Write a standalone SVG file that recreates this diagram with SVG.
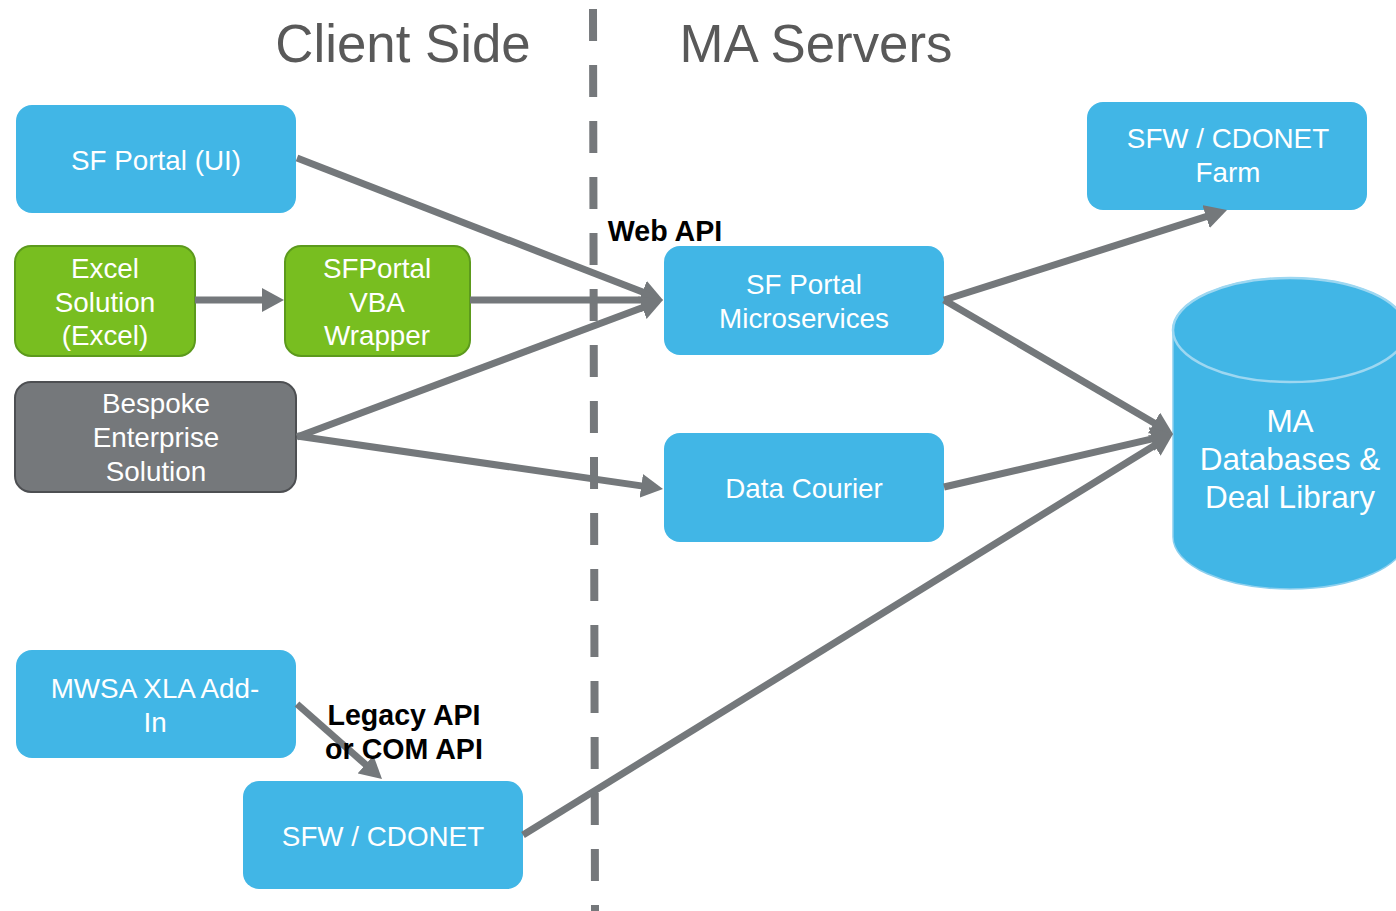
<svg xmlns="http://www.w3.org/2000/svg" width="1396" height="911" viewBox="0 0 1396 911">
<style>
.blue{fill:#41B6E6;}
.green{fill:#78BE20;stroke:#5C9A1C;stroke-width:2;}
.grey{fill:#75787B;stroke:#4D4F52;stroke-width:2;}
.nt{font-family:"Liberation Sans",Arial,sans-serif;font-size:27.8px;fill:#FFFFFF;text-anchor:middle;}
.dbt{font-family:"Liberation Sans",Arial,sans-serif;font-size:31.5px;fill:#FFFFFF;text-anchor:middle;}
.title{font-family:"Liberation Sans",Arial,sans-serif;font-size:52.8px;fill:#595959;text-anchor:middle;}
.lbl{font-family:"Liberation Sans",Arial,sans-serif;font-size:28.6px;font-weight:bold;fill:#000000;text-anchor:middle;}
.conn{stroke:#74787B;stroke-width:7;fill:none;marker-end:url(#ah);}
</style>
<defs>
<marker id="ah" markerUnits="userSpaceOnUse" markerWidth="24" markerHeight="24" refX="14" refY="12" orient="auto">
<path d="M0,0 L22,12 L0,24 Z" fill="#74787B"/>
</marker>
</defs>
<rect width="1396" height="911" fill="#FFFFFF"/>

<g id="titles">
<text class="title" x="403" y="62">Client Side</text>
<text class="title" x="816" y="62">MA Servers</text>
</g>

<g id="divider">
<line x1="593" y1="9" x2="595" y2="911" stroke="#75787B" stroke-width="8" stroke-dasharray="32 24"/>
</g>

<g id="sf-portal-ui">
<rect class="blue" x="16" y="105" width="280" height="108" rx="16"/>
<text class="nt" x="156" y="170">SF Portal (UI)</text>
</g>

<g id="excel-solution">
<rect class="green" x="15" y="246" width="180" height="110" rx="16"/>
<text class="nt" x="105" y="278">Excel</text>
<text class="nt" x="105" y="312">Solution</text>
<text class="nt" x="105" y="345">(Excel)</text>
</g>

<g id="vba-wrapper">
<rect class="green" x="285" y="246" width="185" height="110" rx="16"/>
<text class="nt" x="377" y="278">SFPortal</text>
<text class="nt" x="377" y="312">VBA</text>
<text class="nt" x="377" y="345">Wrapper</text>
</g>

<g id="bespoke">
<rect class="grey" x="15" y="382" width="281" height="110" rx="16"/>
<text class="nt" x="156" y="413">Bespoke</text>
<text class="nt" x="156" y="447">Enterprise</text>
<text class="nt" x="156" y="481">Solution</text>
</g>

<g id="microservices">
<rect class="blue" x="664" y="246" width="280" height="109" rx="16"/>
<text class="nt" x="804" y="294">SF Portal</text>
<text class="nt" x="804" y="328">Microservices</text>
</g>

<g id="data-courier">
<rect class="blue" x="664" y="433" width="280" height="109" rx="16"/>
<text class="nt" x="804" y="498">Data Courier</text>
</g>

<g id="farm">
<rect class="blue" x="1087" y="102" width="280" height="108" rx="16"/>
<text class="nt" x="1228" y="148">SFW / CDONET</text>
<text class="nt" x="1228" y="182">Farm</text>
</g>

<g id="ma-databases">
<path class="blue" d="M1173,330 L1173,537 A117,52 0 0 0 1407,537 L1407,330 A117,52 0 0 0 1173,330 Z" stroke="#8CCFEE" stroke-width="1.5"/>
<ellipse cx="1290" cy="330" rx="117" ry="52" fill="#41B6E6" stroke="#9DD7F1" stroke-width="2.5"/>
<text class="dbt" x="1290" y="432">MA</text>
<text class="dbt" x="1290" y="470">Databases &amp;</text>
<text class="dbt" x="1290" y="508">Deal Library</text>
</g>

<g id="mwsa">
<rect class="blue" x="16" y="650" width="280" height="108" rx="16"/>
<text class="nt" x="155" y="698">MWSA XLA Add-</text>
<text class="nt" x="155" y="732">In</text>
</g>

<g id="sfw-cdonet">
<rect class="blue" x="243" y="781" width="280" height="108" rx="16"/>
<text class="nt" x="383" y="846">SFW / CDONET</text>
</g>

<g id="connectors">
<line class="conn" x1="297" y1="158" x2="655.5" y2="297.1"/>
<line class="conn" x1="470" y1="300" x2="655" y2="300"/>
<line class="conn" x1="297" y1="437" x2="655.5" y2="302.8"/>
<line class="conn" x1="297" y1="436" x2="655.1" y2="487.9"/>
<line class="conn" x1="195" y1="300" x2="276" y2="300"/>
<line class="conn" x1="944" y1="300" x2="1219.4" y2="212.4"/>
<line class="conn" x1="944" y1="300" x2="1166.1" y2="430"/>
<line class="conn" x1="944" y1="487" x2="1165.2" y2="435.8"/>
<line class="conn" x1="523" y1="835" x2="1166.2" y2="438.2"/>
<line class="conn" x1="297" y1="704" x2="376" y2="773.7"/>
</g>

<g id="labels">
<text class="lbl" x="665" y="241">Web API</text>
<text class="lbl" x="404" y="725">Legacy API</text>
<text class="lbl" x="404" y="759">or COM API</text>
</g>
</svg>
